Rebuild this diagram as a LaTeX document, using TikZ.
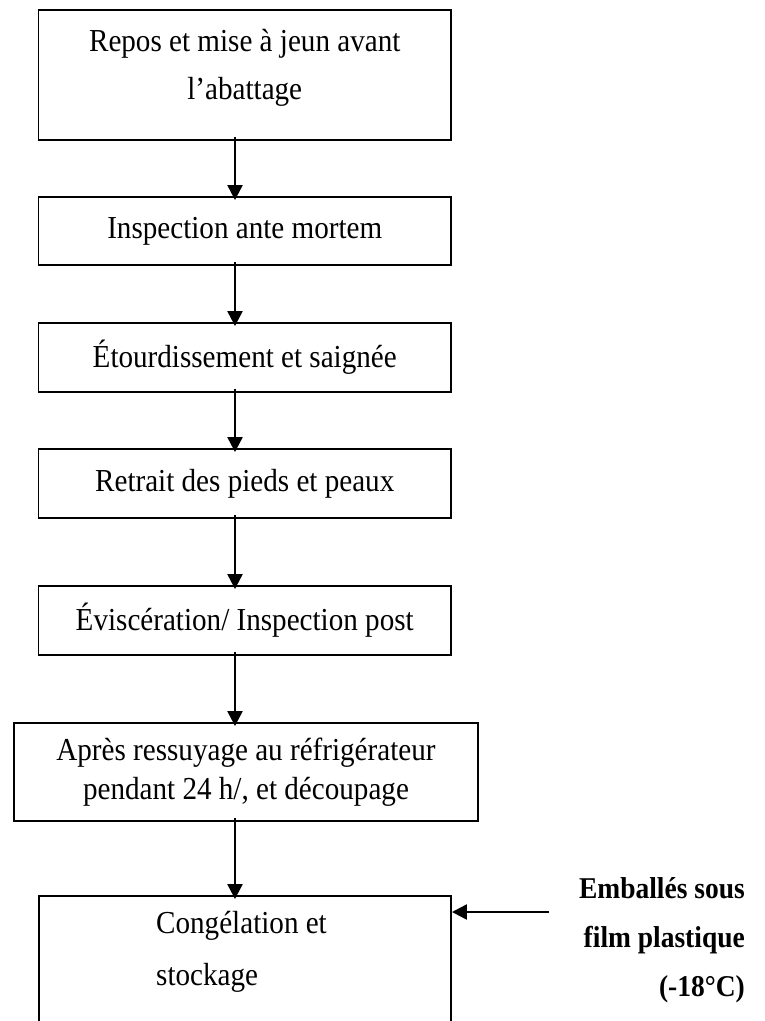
\documentclass[tikz,border=0pt]{standalone}
\usepackage{fontspec}
\setmainfont[FakeStretch=0.91]{Liberation Serif}
\usetikzlibrary{arrows.meta}
\newcommand{\deux}[3][0pt]{\begin{tabular}{@{}c@{}}#2\\[#1]#3\end{tabular}}

\begin{document}
\begin{tikzpicture}[x=1pt,y=-1pt]
    \tikzset{boite/.style={draw, line width=1.9pt, minimum width=412.5pt, inner sep=0pt, font=\fontsize{32}{39}\selectfont},
             fleche/.style={line width=2.3pt, shorten <=-4pt, shorten >=-4pt, -{Triangle[width=15pt,length=15pt]}}}
    \useasboundingbox (0,0) rectangle (764,1021);
    \coordinate (axe) at (235,0);
    \node[boite, minimum height=130pt] (repos) at (244.75,75)
        {\raisebox{7pt}[\dimexpr\height+7pt\relax][\dimexpr\depth+7pt\relax]{\deux[9pt]{Repos et mise à jeun avant}{l'abattage}}};
    \node[boite, minimum height=68pt] (insp) at (244.75,231) {Inspection ante mortem};
    \node[boite, minimum height=69pt] (etour) at (244.75,357.5) {Étourdissement et saignée};
    \node[boite, minimum height=69pt] (retrait) at (244.75,483.5) {Retrait des pieds et peaux};
    \node[boite, minimum height=69pt] (evisc) at (244.75,620.5) {Éviscération/ Inspection post};
    \node[boite, minimum width=464pt, minimum height=98pt] (apres) at (246,772) {\deux{Après ressuyage au réfrigérateur}{pendant 24 h/, et découpage}};
    \node[boite, minimum width=412pt, minimum height=140pt] (conge) at (245,966) {};
    \node[anchor=base west, inner sep=0pt, font=\fontsize{32}{39}\selectfont] (congetxt) at (156,933)
        {\begin{tabular}[t]{@{}l@{}}Congélation et\\[13pt]stockage\end{tabular}};
    \node[anchor=base east, inner sep=0pt, font=\fontsize{30.2}{39}\bfseries] (emb) at (745,898)
        {\begin{tabular}[t]{@{}r@{}}Emballés sous\\[10pt]film plastique\\[10pt](-18°C)\end{tabular}};
    \coordinate (embin) at (549,912);
    \foreach \a/\b in {repos/insp, insp/etour, etour/retrait, retrait/evisc, evisc/apres, apres/conge}
        \draw[fleche] (\a.south -| axe) -- (\b.north -| axe);
    \draw[fleche, shorten <=0pt, shorten >=0pt] (embin) -- (conge.east |- embin);
\end{tikzpicture}
\end{document}
